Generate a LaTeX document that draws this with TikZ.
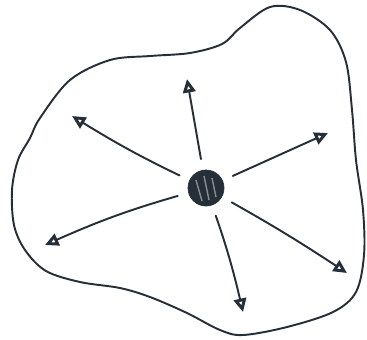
\documentclass[tikz,border=0pt]{standalone}
\usetikzlibrary{arrows.meta}
\definecolor{inkdark}{RGB}{38,46,56}

\begin{document}
\begin{tikzpicture}[
  x=0.02cm, y=-0.02cm,
  ink/.style={draw=inkdark, line width=1.1pt, line cap=round, line join=round},
  arr/.style={ink, -{Triangle[open, length=0.27cm, width=0.25cm, line width=1.7pt]}, shorten <=0.22cm},
  hubdot/.style={circle, fill=inkdark, draw=inkdark, minimum size=0.72cm, inner sep=0pt}
]
\useasboundingbox (0,0) rectangle (367,339);
% contorno
\draw[ink] plot[smooth cycle, tension=0.55] coordinates {
  (40,118) (70,80) (110,60) (150,56) (190,53) (222,44) (240,28) (270,7)
  (300,10) (330,30) (346,62) (352,110) (356,160) (363,210) (364,255)
  (356,292) (333,312) (287,327) (243,335) (220,330) (187,313) (150,297)
  (120,288) (80,282) (46,271) (25,250) (14,225) (12,190) (18,160) (30,138)};
% centro
\node[hubdot] (hub) at (206,188) {};
\draw[white, line width=0.8pt, opacity=0.45] (196,180) -- (202,201) (204,176) -- (209,200) (212,178) -- (216,197);
% punte
\coordinate (tipN) at (187,79);
\coordinate (tipNW) at (72,116);
\coordinate (tipNE) at (328,133);
\coordinate (tipSW) at (45,245);
\coordinate (tipS) at (243,312);
\coordinate (tipSE) at (347,273);

\draw[arr] (hub) -- (tipN);
\draw[arr] (hub) to[bend left=3] (tipNW);
\draw[arr] (hub) -- (tipNE);
\draw[arr] (hub) to[bend right=4] (tipSW);
\draw[arr] (hub) to[bend left=3] (tipS);
\draw[arr] (hub) to[bend left=2] (tipSE);
\end{tikzpicture}
\end{document}
